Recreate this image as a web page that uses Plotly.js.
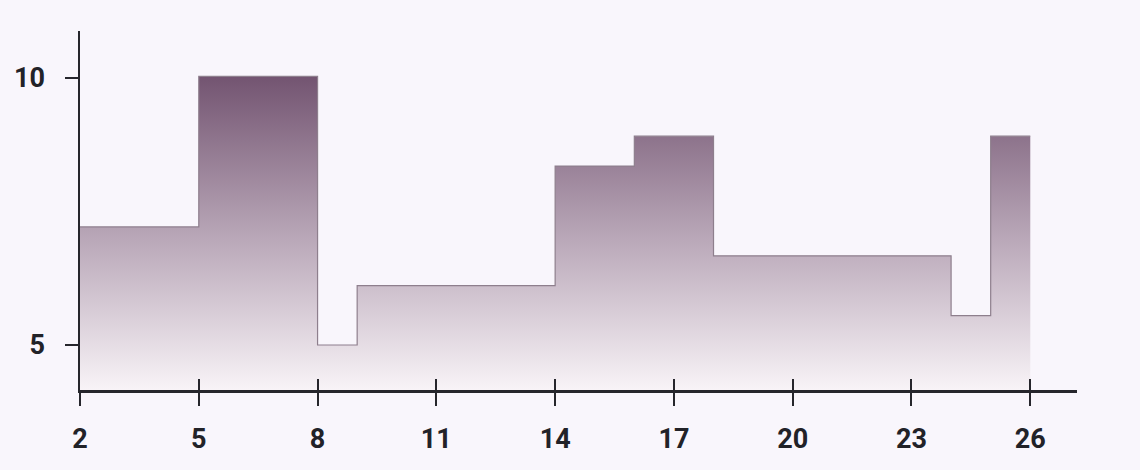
<!DOCTYPE html>
<html>
<head>
<meta charset="utf-8">
<script src="https://cdn.plot.ly/plotly-3.0.1.min.js"></script>
<style>
  html, body { margin: 0; padding: 0; background: #f9f6fc; }
  #chart { width: 1140px; height: 470px; }
</style>
</head>
<body>
<div id="chart"></div>
<script>
const xValues = [2, 3, 4, 5, 6, 7, 8, 9, 10, 11, 12, 13, 14, 15, 16, 17, 18, 19, 20, 21, 22, 23, 24, 25, 26];
const yValues = [7.21, 7.21, 7.21, 10.03, 10.03, 10.03, 5.0, 6.11, 6.11, 6.11, 6.11, 6.11, 8.35, 8.35, 8.91, 8.91, 6.67, 6.67, 6.67, 6.67, 6.67, 6.67, 5.55, 8.91, 8.91];
const xTicks = [2, 5, 8, 11, 14, 17, 20, 23, 26];
const yTicks = [5, 10];

const xRange = [2, 27.18];
const yRange = [4.157, 10.88];

const trace = {
  x: xValues,
  y: yValues,
  type: 'scatter',
  mode: 'lines',
  line: { shape: 'hv', color: '#8e7f8d', width: 1.2 },
  fill: 'tozeroy',
  fillgradient: {
    type: 'vertical',
    start: yRange[0],
    stop: 10.03,
    colorscale: [[0, '#f8f3f7'], [0.5, '#b7a5b6'], [1, '#735471']]
  },
  hoverinfo: 'skip',
  showlegend: false
};

const tickFont = { family: 'Roboto, sans-serif', size: 27, color: '#222228', weight: 700 };

const layout = {
  width: 1140,
  height: 470,
  margin: { l: 80, r: 63, t: 31, b: 80 },
  paper_bgcolor: '#f9f6fc',
  plot_bgcolor: '#f9f6fc',
  showlegend: false,
  xaxis: {
    range: xRange,
    tickmode: 'array',
    tickvals: xTicks,
    ticktext: xTicks.map(String),
    showgrid: false,
    zeroline: false,
    showline: true,
    linecolor: '#26262c',
    linewidth: 2.5,
    ticks: 'outside',
    ticklen: 13,
    tickwidth: 2,
    tickcolor: '#26262c',
    tickfont: tickFont,
    ticklabelstandoff: 10
  },
  xaxis2: {
    range: xRange,
    overlaying: 'x',
    anchor: 'y',
    side: 'bottom',
    tickmode: 'array',
    tickvals: xTicks,
    showticklabels: false,
    showgrid: false,
    zeroline: false,
    showline: false,
    ticks: 'inside',
    ticklen: 11,
    tickwidth: 2,
    tickcolor: '#26262c'
  },
  yaxis: {
    range: yRange,
    tickmode: 'array',
    tickvals: yTicks,
    ticktext: yTicks.map(String),
    showgrid: false,
    zeroline: false,
    showline: true,
    linecolor: '#26262c',
    linewidth: 2.5,
    ticks: 'outside',
    ticklen: 13,
    tickwidth: 2,
    tickcolor: '#26262c',
    tickfont: tickFont,
    ticklabelstandoff: 14
  }
};

const dummy = { x: [xRange[0]], y: [yRange[0]], xaxis: 'x2', yaxis: 'y', mode: 'markers', marker: { opacity: 0 }, hoverinfo: 'skip', showlegend: false };

Plotly.newPlot('chart', [trace, dummy], layout, { displayModeBar: false, staticPlot: true });
</script>
</body>
</html>
